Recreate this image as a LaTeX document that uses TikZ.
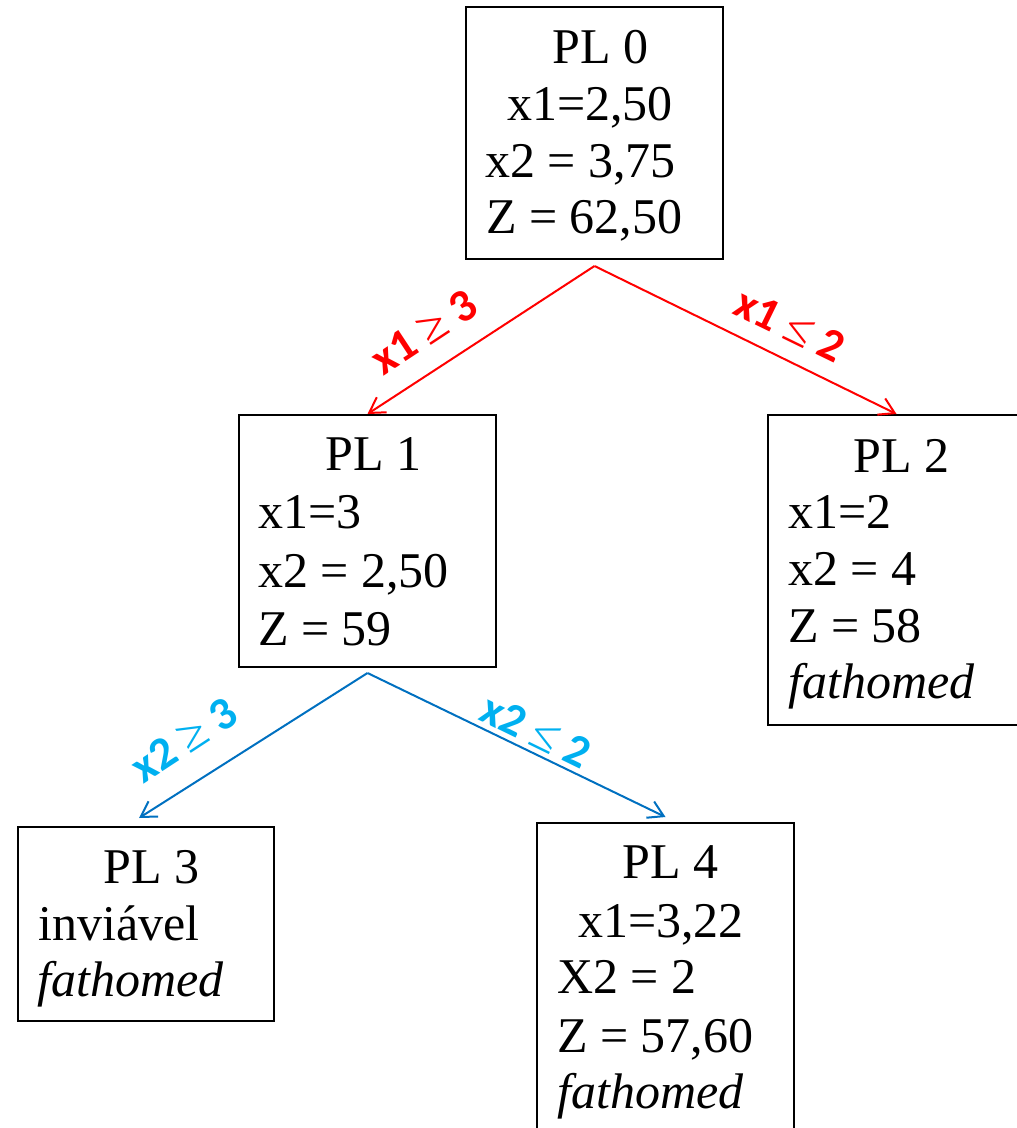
\documentclass[tikz,border=0pt]{standalone}
\usepackage{fontspec}
\setmainfont{Liberation Serif}
\newfontfamily\labfont{Carlito}
\newfontfamily\relfont{Liberation Serif}
\usetikzlibrary{arrows.meta}
\definecolor{cutred}{RGB}{255,0,0}
\definecolor{cutblue}{RGB}{0,112,192}
\definecolor{cutlabel}{RGB}{0,176,240}
% thin relation sign between the bold label parts
\newcommand{\relsign}[1]{{\relfont\mdseries\fontsize{50}{50}\selectfont #1}}
\begin{document}
\begin{tikzpicture}[x=1pt,y=-1pt,
  box/.style={draw=black, line width=2pt, anchor=north west, inner sep=0pt},
  txt/.style={anchor=base west, inner sep=0pt, font=\fontsize{50}{57}\selectfont},
  lab/.style={inner sep=0pt, font=\labfont\bfseries\fontsize{46}{50}\selectfont},
  branch/.style={line width=2pt, -{Straight Barb[length=15pt,width=18pt,line width=2pt]}},
]
\useasboundingbox (0,0) rectangle (1017,1128);
\clip (0,0) rectangle (1017,1128);

% problem boxes
\node[box, minimum width=257pt, minimum height=252pt] (pl0) at (465,6) {};
\node[box, minimum width=257pt, minimum height=252pt] (pl1) at (238,414) {};
\node[box, minimum width=257pt, minimum height=310pt] (pl2) at (767,414) {};
\node[box, minimum width=256pt, minimum height=194pt] (pl3) at (17,826) {};
\node[box, minimum width=257pt, minimum height=320pt] (pl4) at (536,822) {};

% PL 0
\node[txt] (t0a) at (552,63) {PL 0};
\node[txt] (t0b) at (507,120) {x1=2,50};
\node[txt] (t0c) at (485,177) {x2 = 3,75};
\node[txt] (t0d) at (486,233) {Z = 62,50};

% PL 1
\node[txt] (t1a) at (325,470) {PL 1};
\node[txt] (t1b) at (258,528) {x1=3};
\node[txt] (t1c) at (258,587) {x2 = 2,50};
\node[txt] (t1d) at (258,645) {Z = 59};

% PL 2
\node[txt] (t2a) at (853,472) {PL 2};
\node[txt] (t2b) at (788,528) {x1=2};
\node[txt] (t2c) at (788,585) {x2 = 4};
\node[txt] (t2d) at (788,642) {Z = 58};
\node[txt] (t2e) at (788,698) {\textit{fathomed}};

% PL 3
\node[txt] (t3a) at (103,883) {PL 3};
\node[txt] (t3b) at (38,940) {inviável};
\node[txt] (t3c) at (37,996) {\textit{fathomed}};

% PL 4
\node[txt] (t4a) at (622,878) {PL 4};
\node[txt] (t4b) at (578,937) {x1=3,22};
\node[txt] (t4c) at (557,993) {X2 = 2};
\node[txt] (t4d) at (557,1052) {Z = 57,60};
\node[txt] (t4e) at (557,1108) {\textit{fathomed}};

% branching on x1
\draw[branch, cutred] ([yshift=-6pt]pl0.south) -- (pl1.north);
\draw[branch, cutred] ([yshift=-6pt]pl0.south) -- (pl2.north);
\node[lab, text=cutred, rotate=33.4] (b1) at (424,332) {x1 \relsign{≥} 3};
\node[lab, text=cutred, rotate=-26] (b2) at (790,325) {x1 \relsign{≤} 2};

% branching on x2
\draw[branch, cutblue] ([yshift=-5pt]pl1.south) -- ([xshift=-7pt,yshift=8pt]pl3.north);
\draw[branch, cutblue] ([yshift=-5pt]pl1.south) -- ([yshift=5pt]pl4.north);
\node[lab, text=cutlabel, rotate=33.2] (b3) at (184,740) {x2 \relsign{≥} 3};
\node[lab, text=cutlabel, rotate=-26] (b4) at (536,731) {x2 \relsign{≤} 2};
\end{tikzpicture}
\end{document}
